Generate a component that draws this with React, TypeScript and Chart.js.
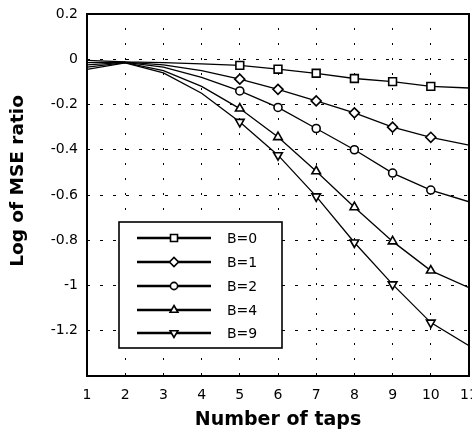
import React, { useEffect, useRef } from 'react';
import { Chart, registerables } from 'chart.js';

Chart.register(...registerables);

const taps = [1, 2, 3, 4, 5, 6, 7, 8, 9, 10, 11];
const seriesLabels = ['B=0', 'B=1', 'B=2', 'B=4', 'B=9'];
const b0 = [-0.005, -0.012, -0.015, -0.02, -0.027, -0.044, -0.062, -0.085, -0.099, -0.12, -0.127];
const b1 = [-0.015, -0.013, -0.025, -0.05, -0.088, -0.133, -0.184, -0.237, -0.3, -0.345, -0.38];
const b2 = [-0.025, -0.014, -0.035, -0.08, -0.14, -0.213, -0.306, -0.4, -0.503, -0.578, -0.63];
const b4 = [-0.035, -0.015, -0.05, -0.12, -0.218, -0.344, -0.495, -0.654, -0.805, -0.934, -1.01];
const b9 = [-0.045, -0.016, -0.06, -0.15, -0.277, -0.424, -0.606, -0.81, -0.995, -1.164, -1.266];
const seriesValues = [b0, b1, b2, b4, b9];
const markerStyles = ['rect', 'rectRot', 'circle', 'triangle', 'triangle'];
const markerRotations = [0, 0, 0, 0, 180];
const markerRadii = [5.5, 5, 4, 5, 5];
const markedTaps = [5, 6, 7, 8, 9, 10];
const xTickLabels = ['1', '2', '3', '4', '5', '6', '7', '8', '9', '10', '11'];
const yTickValues = [0.2, 0, -0.2, -0.4, -0.6, -0.8, -1, -1.2];
const yTickLabels = ['0.2', '0', '-0.2', '-0.4', '-0.6', '-0.8', '-1', '-1.2'];
const xTitle = 'Number of taps';
const yTitle = 'Log of MSE ratio';

const FONT = '"DejaVu Sans", sans-serif';

function drawMarker(ctx: CanvasRenderingContext2D, style: string, x: number, y: number, r: number, rot: number) {
  ctx.beginPath();
  if (style === 'rect') {
    const s = Math.SQRT1_2 * r;
    ctx.rect(x - s, y - s, 2 * s, 2 * s);
  } else if (style === 'rectRot') {
    ctx.moveTo(x - r, y);
    ctx.lineTo(x, y - r);
    ctx.lineTo(x + r, y);
    ctx.lineTo(x, y + r);
    ctx.closePath();
  } else if (style === 'circle') {
    ctx.arc(x, y, r, 0, Math.PI * 2);
  } else {
    let a = (rot * Math.PI) / 180;
    ctx.moveTo(x + Math.sin(a) * r, y - Math.cos(a) * r);
    a += (2 * Math.PI) / 3;
    ctx.lineTo(x + Math.sin(a) * r, y - Math.cos(a) * r);
    a += (2 * Math.PI) / 3;
    ctx.lineTo(x + Math.sin(a) * r, y - Math.cos(a) * r);
    ctx.closePath();
  }
  ctx.fillStyle = '#fff';
  ctx.fill();
  ctx.stroke();
}

const decorPlugin = {
  id: 'decor',
  afterDraw(chart: any) {
    const ctx: CanvasRenderingContext2D = chart.ctx;
    const ca = chart.chartArea;
    ctx.save();
    // frame
    ctx.strokeStyle = '#000';
    ctx.lineWidth = 2;
    ctx.setLineDash([]);
    ctx.strokeRect(ca.left, ca.top, ca.right - ca.left, ca.bottom - ca.top);

    // legend
    const lx = 119, ly = 222, lw = 163, lh = 126;
    ctx.fillStyle = '#fff';
    ctx.fillRect(lx, ly, lw, lh);
    ctx.lineWidth = 1.6;
    ctx.strokeRect(lx, ly, lw, lh);
    const rowYs = [238, 262, 286, 310, 333];
    chart.data.datasets.forEach((ds: any, i: number) => {
      const y = rowYs[i];
      ctx.strokeStyle = '#000';
      ctx.lineWidth = 2.6;
      ctx.beginPath();
      ctx.moveTo(137, y);
      ctx.lineTo(211, y);
      ctx.stroke();
      ctx.lineWidth = 1.6;
      drawMarker(ctx, markerStyles[i], 174, y, markerRadii[i] * 0.9, markerRotations[i]);
      ctx.fillStyle = '#000';
      ctx.font = `14px ${FONT}`;
      ctx.textAlign = 'left';
      ctx.textBaseline = 'middle';
      ctx.fillText(ds.label, 227, y + 1);
    });

    // axis titles
    ctx.fillStyle = '#000';
    ctx.font = `bold 19px ${FONT}`;
    ctx.textAlign = 'center';
    ctx.textBaseline = 'alphabetic';
    ctx.fillText(xTitle, (ca.left + ca.right) / 2, 425);
    ctx.translate(23, 181);
    ctx.rotate(-Math.PI / 2);
    ctx.font = `bold 18.5px ${FONT}`;
    ctx.fillText(yTitle, 0, 0);
    ctx.restore();
  },
};

export default function App() {
  const ref = useRef<HTMLCanvasElement | null>(null);
  useEffect(() => {
    if (!ref.current) return;
    const datasets = seriesValues.map((vals, i) => ({
      label: seriesLabels[i],
      data: taps.map((t, j) => ({ x: t, y: vals[j] })),
      borderColor: '#000',
      borderWidth: 1.3,
      backgroundColor: '#fff',
      pointStyle: markerStyles[i] as any,
      rotation: markerRotations[i],
      pointRadius: (c: any) => (markedTaps.includes(taps[c.dataIndex]) ? markerRadii[i] : 0),
      pointHoverRadius: 0,
      pointBackgroundColor: '#fff',
      pointBorderColor: '#000',
      pointBorderWidth: 1.6,
      tension: 0,
    }));
    const chart = new Chart(ref.current, {
      type: 'line',
      data: { datasets },
      options: {
        responsive: false,
        animation: false,
        events: [],
        layout: { padding: { top: 14, right: 3, left: 0, bottom: 0 } },
        plugins: { legend: { display: false }, tooltip: { enabled: false } },
        scales: {
          x: {
            type: 'linear',
            min: 1,
            max: 11,
            afterBuildTicks: (s: any) => {
              s.ticks = taps.map((v) => ({ value: v }));
            },
            afterFit: (s: any) => {
              s.height = 64;
              s.paddingLeft = 0;
              s.paddingRight = 0;
            },
            ticks: {
              autoSkip: false,
              maxRotation: 0,
              padding: 11,
              color: '#000',
              font: { family: FONT, size: 14 },
              callback: (v: any) => xTickLabels[taps.indexOf(Number(v))] ?? '',
            },
            grid: { color: '#000', lineWidth: 1, drawTicks: false },
            border: { display: false, dash: [2, 13], dashOffset: 1 },
          },
          y: {
            type: 'linear',
            min: -1.4,
            max: 0.2,
            afterBuildTicks: (s: any) => {
              s.ticks = [...yTickValues, -1.4].map((v) => ({ value: v }));
            },
            afterFit: (s: any) => {
              s.width = 87;
              s.paddingTop = 0;
              s.paddingBottom = 0;
            },
            ticks: {
              padding: 9,
              color: '#000',
              font: { family: FONT, size: 14 },
              callback: (v: any) => {
                const idx = yTickValues.findIndex((t) => Math.abs(t - Number(v)) < 1e-6);
                return idx >= 0 ? yTickLabels[idx] : '';
              },
            },
            grid: { color: '#000', lineWidth: 1, drawTicks: false },
            border: { display: false, dash: [3, 10] },
          },
        },
      },
      plugins: [decorPlugin],
    });
    return () => chart.destroy();
  }, []);
  return (
    <div style={{ position: 'fixed', left: 0, top: 0, width: 472, height: 440, background: '#fff' }}>
      <canvas ref={ref} width={472} height={440} style={{ display: 'block' }} />
    </div>
  );
}
